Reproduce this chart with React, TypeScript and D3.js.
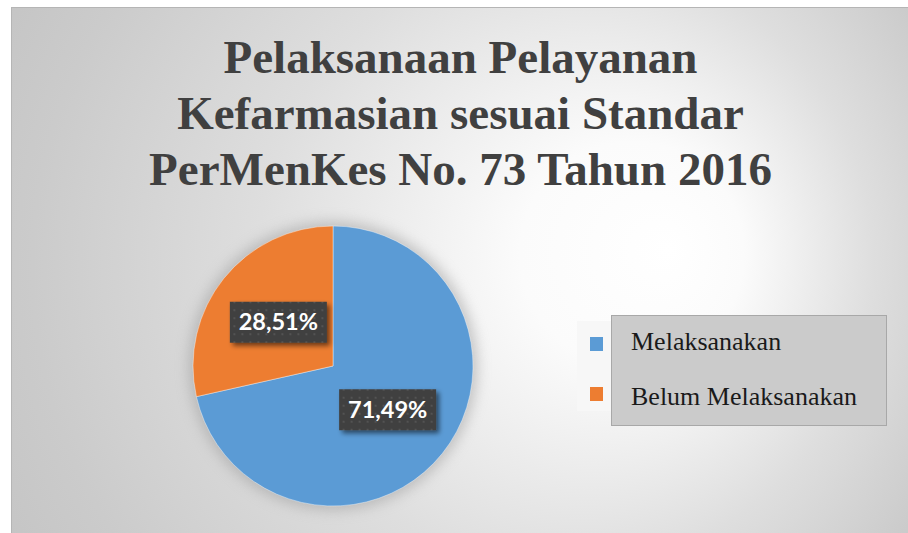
import React from "react";
import * as d3 from "d3";

const categories = ["Melaksanakan", "Belum Melaksanakan"];
const values = [71.49, 28.51];
const valueLabels = ["71,49%", "28,51%"];
const colors = ["#5B9BD5", "#ED7D31"];
const titleLines = [
  "Pelaksanaan Pelayanan",
  "Kefarmasian sesuai Standar",
  "PerMenKes No. 73 Tahun 2016",
];

const W = 908;
const H = 533;
const cx = 333;
const cy = 366;
const R = 140;

export default function App() {
  const pie = d3.pie<number>().sort(null).value((d) => d);
  const arcs = pie(values);
  const arc = d3.arc<d3.PieArcDatum<number>>().innerRadius(0).outerRadius(R);

  const titleY = d3.scaleLinear().domain([0, 2]).range([73, 185]);
  const legendY = d3.scaleLinear().domain([0, 1]).range([350, 405]);

  return (
    <svg
      width={W}
      height={H}
      style={{ position: "absolute", left: 0, top: 0, display: "block" }}
    >
      <defs>
        <radialGradient
          id="bg"
          gradientUnits="userSpaceOnUse"
          cx={480}
          cy={270}
          r={560}
          fx={670}
          fy={250}
        >
          <stop offset="0" stopColor="#ffffff" />
          <stop offset="0.2" stopColor="#fbfbfb" />
          <stop offset="0.55" stopColor="#dedede" />
          <stop offset="0.85" stopColor="#cbcbcb" />
          <stop offset="1" stopColor="#c4c4c4" />
        </radialGradient>
        <filter id="glow" x="-30%" y="-30%" width="160%" height="160%">
          <feGaussianBlur stdDeviation="7" />
        </filter>
        <filter id="boxShadow" x="-20%" y="-30%" width="150%" height="180%">
          <feGaussianBlur in="SourceAlpha" stdDeviation="2.5" />
          <feOffset dx="3" dy="3" result="b" />
          <feComponentTransfer>
            <feFuncA type="linear" slope="0.55" />
          </feComponentTransfer>
          <feMerge>
            <feMergeNode />
            <feMergeNode in="SourceGraphic" />
          </feMerge>
        </filter>
        <pattern id="dots" width="8" height="8" patternUnits="userSpaceOnUse">
          <rect width="8" height="8" fill="#404040" />
          <circle cx="4" cy="4" r="0.9" fill="#5c5c5c" />
        </pattern>
      </defs>

      <rect x={11} y={7} width={W - 11} height={H - 7} fill="url(#bg)" />
      <line x1={11.5} y1={7} x2={11.5} y2={H} stroke="#b5b5b5" strokeWidth={1} />
      <line x1={11} y1={7.5} x2={W} y2={7.5} stroke="#b5b5b5" strokeWidth={1} />

      {titleLines.map((t, i) => (
        <text
          key={t}
          x={460.5}
          y={titleY(i)}
          textAnchor="middle"
          fontFamily="'Liberation Serif', 'Times New Roman', serif"
          fontWeight="bold"
          fontSize={47}
          fill="#404040"
        >
          {t}
        </text>
      ))}

      <g transform={`translate(${cx},${cy})`}>
        <circle r={R + 4} fill="#9a9a9a" opacity={0.55} filter="url(#glow)" />
        {arcs.map((a, i) => (
          <path
            key={categories[i]}
            d={arc(a) || ""}
            fill={colors[i]}
            stroke="#ffffff"
            strokeOpacity={0.5}
            strokeWidth={0.8}
          />
        ))}
        {arcs.map((a, i) => {
          const [lx, ly] = arc.centroid(a);
          return (
            <g key={valueLabels[i]} transform={`translate(${lx},${ly})`}>
              <rect
                x={-48.5}
                y={-20.5}
                width={97}
                height={41}
                fill="url(#dots)"
                filter="url(#boxShadow)"
              />
              <text
                y={8}
                textAnchor="middle"
                fontFamily="Lato, 'Open Sans', sans-serif"
                fontWeight="bold"
                fontSize={23.5}
                fill="#ffffff"
              >
                {valueLabels[i]}
              </text>
            </g>
          );
        })}
      </g>

      <rect x={577} y={321} width={60} height={90} fill="#f7f7f7" />
      <rect
        x={611.5}
        y={315.5}
        width={275}
        height={110}
        fill="#cbcbcb"
        stroke="#a8a8a8"
        strokeWidth={1}
      />
      {categories.map((c, i) => (
        <g key={c}>
          <rect x={590} y={legendY(i) - 13 - (i === 0 ? 0 : 5)} width={13} height={14} fill={colors[i]} />
          <text
            x={631}
            y={legendY(i)}
            fontFamily="'Liberation Serif', 'Times New Roman', serif"
            fontSize={26}
            fill="#1a1a1a"
          >
            {c}
          </text>
        </g>
      ))}
    </svg>
  );
}
